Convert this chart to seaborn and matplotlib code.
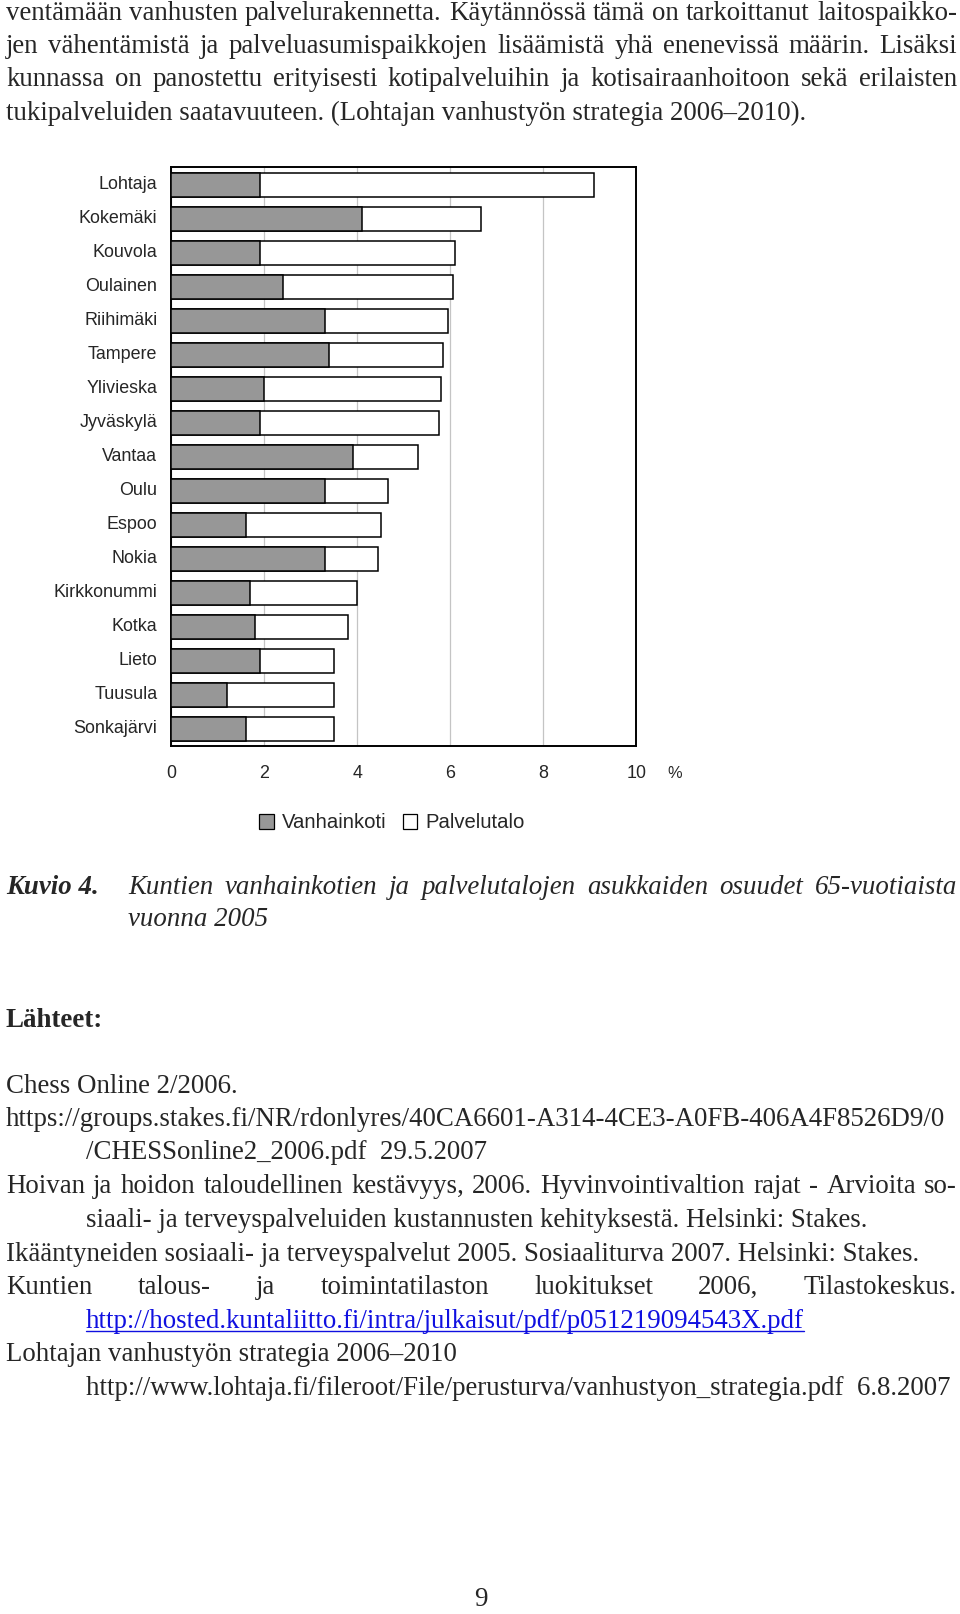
import numpy as np
import pandas as pd
import matplotlib
matplotlib.use("Agg")
import matplotlib.pyplot as plt
import seaborn as sns
from matplotlib.patches import Patch
from matplotlib.lines import Line2D
from matplotlib.transforms import ScaledTranslation

# data (% of over-65s)
kunnat = ["Lohtaja", "Kokemäki", "Kouvola", "Oulainen", "Riihimäki", "Tampere",
          "Ylivieska", "Jyväskylä", "Vantaa", "Oulu", "Espoo", "Nokia",
          "Kirkkonummi", "Kotka", "Lieto", "Tuusula", "Sonkajärvi"]
vanhainkoti = [1.9, 4.1, 1.9, 2.4, 3.3, 3.4, 2.0, 1.9, 3.9, 3.3, 1.6, 3.3,
               1.7, 1.8, 1.9, 1.2, 1.6]
palvelutalo = [7.2, 2.55, 4.2, 3.65, 2.65, 2.45, 3.8, 3.85, 1.4, 1.35, 2.9, 1.15,
               2.3, 2.0, 1.6, 2.3, 1.9]
x_ticks = [0, 2, 4, 6, 8, 10]

body_top = [
    "ventämään vanhusten palvelurakennetta. Käytännössä tämä on tarkoittanut laitospaikko-",
    "jen vähentämistä ja palveluasumispaikkojen lisäämistä yhä enenevissä määrin. Lisäksi",
    "kunnassa on panostettu erityisesti kotipalveluihin ja kotisairaanhoitoon sekä erilaisten",
    "tukipalveluiden saatavuuteen. (Lohtajan vanhustyön strategia 2006–2010).",
]
caption = ["Kuntien vanhainkotien ja palvelutalojen asukkaiden osuudet 65-vuotiaista",
           "vuonna 2005"]

W, H = 960, 1614
sns.set_style("white")
plt.rcParams["font.family"] = ["Liberation Sans", "DejaVu Sans"]

fig = plt.figure(figsize=(W / 100, H / 100), dpi=100)
renderer = fig.canvas.get_renderer()


def fx(x):
    return x / W


def fy(y):
    return 1 - y / H


SERIF = ["Liberation Serif", "DejaVu Serif"]
BODY = 19.4


def put(x, yc, s, size=BODY, **kw):
    # yc is the visual centre of the line in pixels from the top
    return fig.text(fx(x), fy(yc + 0.34 * size * 100 / 72), s, fontsize=size,
                    family=SERIF, va="baseline", ha="left", **kw)


def justify(x0, x1, yc, s, size=BODY, **kw):
    words = s.split()
    while True:
        arts = [put(0, yc, w, size=size, **kw) for w in words]
        widths = [a.get_window_extent(renderer).width for a in arts]
        gap = (x1 - x0 - sum(widths)) / (len(words) - 1)
        if gap >= 0.18 * size * 100 / 72:
            break
        for a in arts:
            a.remove()
        size *= 0.985
    x = x0
    for a, w in zip(arts, widths):
        a.set_x(fx(x))
        x += w + gap


# paragraph at the top of the page
top_y = [11, 44, 77, 111]
for i, line in enumerate(body_top):
    if i < 3:
        justify(6, 957, top_y[i], line)
    else:
        put(6, top_y[i], line)

# chart
df = pd.DataFrame({"kunta": kunnat, "vanhainkoti": vanhainkoti,
                   "palvelutalo": palvelutalo})
df["yhteensa"] = df["vanhainkoti"] + df["palvelutalo"]

ax = fig.add_axes([fx(171.3), fy(745.7), 465 / W, 579 / H])
sns.barplot(data=df, y="kunta", x="yhteensa", color="white", edgecolor="black",
            linewidth=1.1, width=0.7, saturation=1, ax=ax, zorder=3)
sns.barplot(data=df, y="kunta", x="vanhainkoti", color="#979797", edgecolor="black",
            linewidth=1.1, width=0.7, saturation=1, ax=ax, zorder=4)
ax.set_xlim(0, 10)
ax.set_ylim(16.48, -0.547)
ax.set_xticks(x_ticks)
ax.set_xlabel("")
ax.set_ylabel("")
ax.grid(axis="x", color="#c4c4c4", linewidth=0.9, zorder=0)
ax.grid(axis="y", visible=False)
for sp in ax.spines.values():
    sp.set_visible(True)
    sp.set_color("black")
    sp.set_linewidth(1.4)
ax.tick_params(axis="y", length=0, pad=10, labelsize=12.9)
ax.tick_params(axis="x", length=0, pad=14, labelsize=12.9)
lift = ScaledTranslation(0, 3 / 100, fig.dpi_scale_trans)
for lab in ax.get_yticklabels():
    lab.set_transform(lab.get_transform() + lift)
fig.text(fx(675), fy(774), "%", fontsize=11.8, ha="center", va="center")

handles = [Patch(facecolor="#979797", edgecolor="black", linewidth=0.9),
           Patch(facecolor="white", edgecolor="black", linewidth=0.9)]
fig.legend(handles, ["Vanhainkoti", "Palvelutalo"], loc="center",
           bbox_to_anchor=(fx(392), fy(823)), ncol=2, frameon=False,
           fontsize=14.6, handlelength=0.72, handleheight=0.72,
           handletextpad=0.4, columnspacing=0.8)

# figure caption
put(6, 885, "Kuvio 4.", weight="bold", style="italic")
justify(128, 957, 885, caption[0], style="italic")
put(128, 917, caption[1], style="italic")

# sources
put(6, 1018, "Lähteet:", weight="bold")
put(6, 1084, "Chess Online 2/2006.")
put(6, 1117, "https://groups.stakes.fi/NR/rdonlyres/40CA6601-A314-4CE3-A0FB-406A4F8526D9/0")
put(86, 1150, "/CHESSonline2_2006.pdf  29.5.2007")
justify(6, 957, 1184, "Hoivan ja hoidon taloudellinen kestävyys, 2006. Hyvinvointivaltion rajat - Arvioita so-")
put(86, 1218, "siaali- ja terveyspalveluiden kustannusten kehityksestä. Helsinki: Stakes.")
put(6, 1252, "Ikääntyneiden sosiaali- ja terveyspalvelut 2005. Sosiaaliturva 2007. Helsinki: Stakes.")
justify(6, 957, 1285, "Kuntien talous- ja toimintatilaston luokitukset 2006, Tilastokeskus.")
link = put(86, 1319, "http://hosted.kuntaliitto.fi/intra/julkaisut/pdf/p051219094543X.pdf",
           color="#1010e0")
lw = link.get_window_extent(renderer).width
fig.add_artist(Line2D([fx(86), fx(86 + lw)], [fy(1331), fy(1331)],
                      color="#1010e0", linewidth=1.0))
put(6, 1352, "Lohtajan vanhustyön strategia 2006–2010")
put(86, 1386, "http://www.lohtaja.fi/fileroot/File/perusturva/vanhustyon_strategia.pdf  6.8.2007")

# page number, kept just inside the bottom edge
fig.text(fx(481), fy(1600), "9", fontsize=BODY, family=SERIF,
         ha="center", va="center")

fig.savefig("out.png", dpi=100)
